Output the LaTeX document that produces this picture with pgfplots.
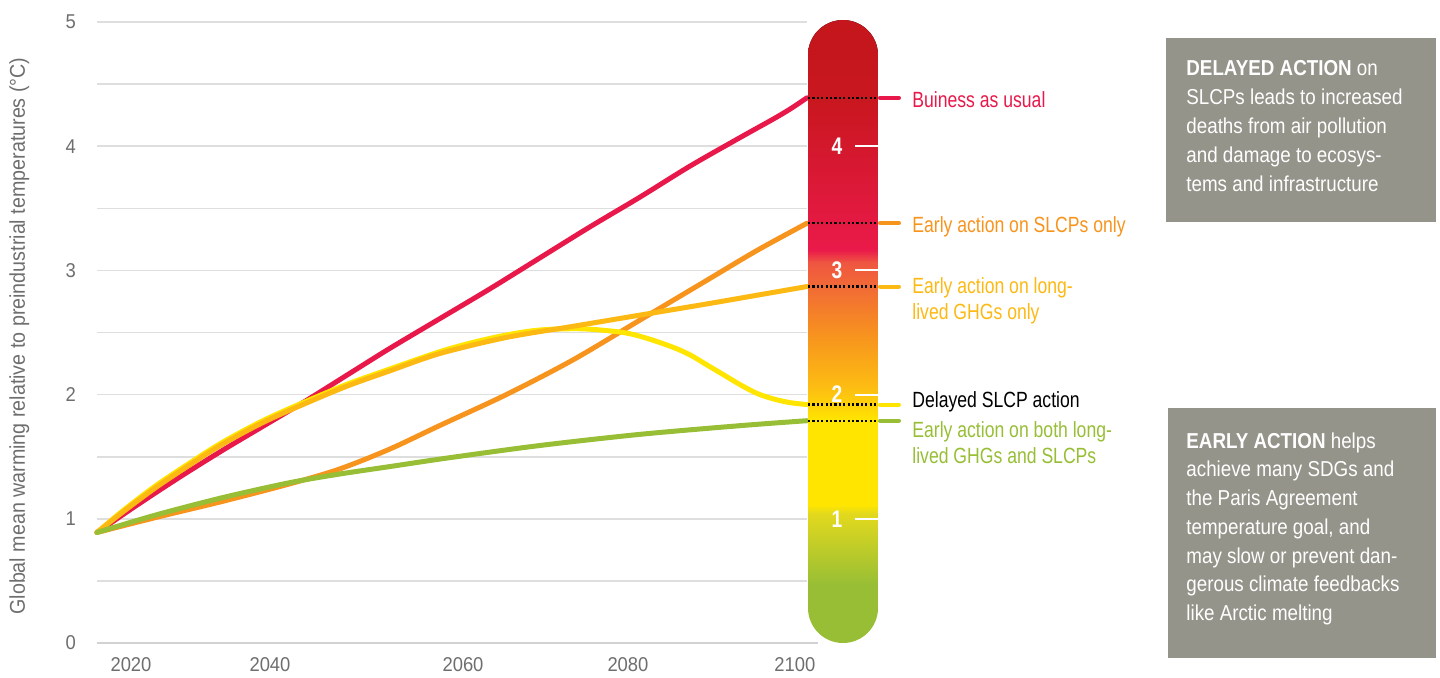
\documentclass[border=0pt]{standalone}
\usepackage{fontspec}
\setmainfont{Liberation Sans}[FakeStretch=0.8]
\newfontfamily\boxfont{Liberation Sans}[FakeStretch=0.87]
\newfontfamily\lightfont{Liberation Sans}[FakeStretch=0.92]
\usepackage{pgfplots}
\usepackage{pgfplotstable}
\pgfplotsset{compat=1.18}
\definecolor{bau}{HTML}{E8194A}
\definecolor{slcp}{HTML}{F7941D}
\definecolor{ghg}{HTML}{FDB913}
\definecolor{delay}{HTML}{FFE500}
\definecolor{both}{HTML}{97BE35}
\definecolor{boxgray}{HTML}{94948A}
\definecolor{gridgray}{HTML}{DEDEDE}
\definecolor{basegray}{HTML}{D2D2D2}
\definecolor{labgray}{HTML}{6E6E6E}
\definecolor{ta}{HTML}{C4161C}
\definecolor{tb}{HTML}{C9171F}
\definecolor{tc}{HTML}{EA1A4A}
\definecolor{td}{HTML}{EF5641}
\definecolor{te}{HTML}{F7931E}
\definecolor{tf}{HTML}{FDBE12}
\definecolor{tg}{HTML}{FFE500}
\definecolor{th}{HTML}{E3D91D}
\definecolor{ti}{HTML}{97BE35}

\pgfplotstableread{
year val
2015 0.89
2020 1.12
2025 1.34
2030 1.55
2035 1.75
2040 1.95
2045 2.16
2050 2.37
2056 2.61
2062 2.85
2068 3.10
2074 3.35
2080 3.59
2086 3.84
2092 4.07
2096 4.22
2098 4.30
2100 4.39
}\bautab

\pgfplotstableread{
year val
2015 0.89
2018 1.05
2022 1.25
2026 1.43
2030 1.60
2035 1.78
2040 1.93
2045 2.07
2050 2.19
2056 2.33
2064 2.46
2072 2.55
2080 2.64
2088 2.73
2094 2.80
2100 2.87
}\ghgtab

\pgfplotstableread{
year val
2015 0.89
2018 1.06
2022 1.265
2026 1.445
2030 1.615
2035 1.795
2040 1.945
2045 2.085
2050 2.205
2056 2.345
2060 2.42
2064 2.48
2068 2.52
2073 2.53
2078 2.50
2081 2.45
2084 2.38
2086 2.32
2088 2.24
2090 2.16
2092 2.08
2094 2.01
2096 1.965
2098 1.935
2100 1.92
}\delaytab

\pgfplotstableread{
year val
2015 0.89
2022 1.03
2030 1.17
2038 1.29
2044 1.36
2050 1.42
2057 1.49
2068 1.59
2080 1.68
2092 1.75
2100 1.79
}\bothtab

\pgfplotstableread{
year val
2015 0.89
2022 1.01
2030 1.14
2038 1.28
2044 1.40
2050 1.56
2056 1.75
2064 2.00
2072 2.28
2080 2.60
2088 2.92
2094 3.16
2100 3.38
}\slcptab

\begin{document}
\begin{tikzpicture}
\useasboundingbox (0,0) rectangle (720pt,338.5pt);

\begin{axis}[
  at={(48.5pt,17pt)}, anchor=south west,
  scale only axis, width=355pt, height=310.5pt,
  xmin=2015, xmax=2100, ymin=0, ymax=5,
  clip=false,
  axis line style={draw=none},
  major tick length=0pt, minor tick length=0pt,
  ytick={0,1,2,3,4,5},
  minor ytick={0.5,1.5,2.5,3.5,4.5},
  ymajorgrids, yminorgrids,
  major grid style={gridgray, line width=0.8pt},
  minor grid style={gridgray, line width=0.8pt},
  xtick={2019.07,2035.71,2058.82,2078.57,2098.56},
  xticklabels={2020,2040,2060,2080,2100},
  tick label style={font=\lightfont\fontsize{10}{12}\selectfont, text=labgray},
  /pgf/number format/assume math mode=true,
  xticklabel style={anchor=north, yshift=-3.75pt},
  yticklabel style={anchor=east, xshift=-7pt},
  every axis plot/.append style={line width=2.5pt, line cap=round, line join=round, smooth},
]
\draw[basegray, line width=1.3pt] (axis cs:2015,0) -- (axis cs:2101.3,0);
\addplot[slcp] table[x=year,y=val] {\slcptab};
\addplot[bau] table[x=year,y=val] {\bautab};
\addplot[delay] table[x=year,y=val] {\delaytab};
\addplot[ghg] table[x=year,y=val] {\ghgtab};
\addplot[both] table[x=year,y=val] {\bothtab};
\coordinate (e1) at (axis cs:2100,4.39);
\coordinate (e2) at (axis cs:2100,3.38);
\coordinate (e3) at (axis cs:2100,2.87);
\coordinate (e4) at (axis cs:2100,1.92);
\coordinate (e5) at (axis cs:2100,1.79);
\end{axis}

\begin{scope}[x=0.5pt,y=-0.5pt,yshift=338.5pt]
  % thermometer
  \begin{scope}
    \clip[rounded corners=17.5pt] (808,20) rectangle (878,643);
    \fill[top color=ta,bottom color=tb] (808,18) rectangle (878,100.5);
    \fill[top color=tb,bottom color=tc] (808,100) rectangle (878,250.5);
    \fill[top color=tc,bottom color=td] (808,250) rectangle (878,262.5);
    \fill[top color=td,bottom color=te] (808,262) rectangle (878,335.5);
    \fill[top color=te,bottom color=tf] (808,335) rectangle (878,388.5);
    \fill[top color=tf,bottom color=tg] (808,388) rectangle (878,420.5);
    \fill[tg] (808,420) rectangle (878,505.5);
    \fill[top color=tg,bottom color=th] (808,505) rectangle (878,513.5);
    \fill[top color=th,bottom color=ti] (808,513) rectangle (878,585.5);
    \fill[ti] (808,585) rectangle (878,645);
  \end{scope}
  \foreach \v/\yy in {4/146.2,3/270.4,2/394.6,1/518.8}{
    \draw[white,line width=1pt] (855,\yy) -- (878,\yy);
    \node[white,inner sep=0pt,font=\bfseries\fontsize{12}{14}\selectfont] at (837,\yy) {\v};
  }
  % y label
  \node[rotate=90, anchor=base, inner sep=0pt, text=labgray,
        font=\lightfont\fontsize{10.7}{12}\selectfont] at (25,336)
        {Global mean warming relative to preindustrial temperatures (°C)};
  % right labels
  \begin{scope}[every node/.style={anchor=base west, inner sep=0pt, font=\fontsize{11}{13}\selectfont}]
    \node[text=bau] at (912,107) {Buiness as usual};
    \node[text=slcp] at (912,232) {Early action on SLCPs only};
    \node[text=ghg] at (912,293) {Early action on long-};
    \node[text=ghg] at (912,319) {lived GHGs only};
    \node[text=black] at (912,407) {Delayed SLCP action};
    \node[text=both] at (912,437) {Early action on both long-};
    \node[text=both] at (912,463) {lived GHGs and SLCPs};
  \end{scope}
  % boxes
  \fill[boxgray] (1166,38) rectangle (1436,222);
  \fill[boxgray] (1168,408) rectangle (1436,658);
  \begin{scope}[every node/.style={anchor=base west, inner sep=0pt, text=white, font=\boxfont\fontsize{10.8}{13}\selectfont}]
    \node at (1186,75) {\textbf{DELAYED ACTION} on};
    \node at (1186,104) {SLCPs leads to increased};
    \node at (1186,133) {deaths from air pollution};
    \node at (1186,162) {and damage to ecosys-};
    \node at (1186,191) {tems and infrastructure};
    \node at (1186,448) {\textbf{EARLY ACTION} helps};
    \node at (1186,476.75) {achieve many SDGs and};
    \node at (1186,505.5) {the Paris Agreement};
    \node at (1186,534.25) {temperature goal, and};
    \node at (1186,563) {may slow or prevent dan-};
    \node at (1186,591.75) {gerous climate feedbacks};
    \node at (1186,620.5) {like Arctic melting};
  \end{scope}
\end{scope}

% dotted lines and stubs at end values
\foreach \e/\c in {e1/bau,e2/slcp,e3/ghg,e4/delay,e5/both}{
  \draw[black, line width=1.1pt, dash pattern=on 1.1pt off 1.1pt] (\e) ++(0.5pt,0) -- ++(34.5pt,0);
  \draw[\c, line width=2pt, line cap=round] (\e) ++(36.5pt,0) -- ++(9.5pt,0);
}
\end{tikzpicture}
\end{document}
